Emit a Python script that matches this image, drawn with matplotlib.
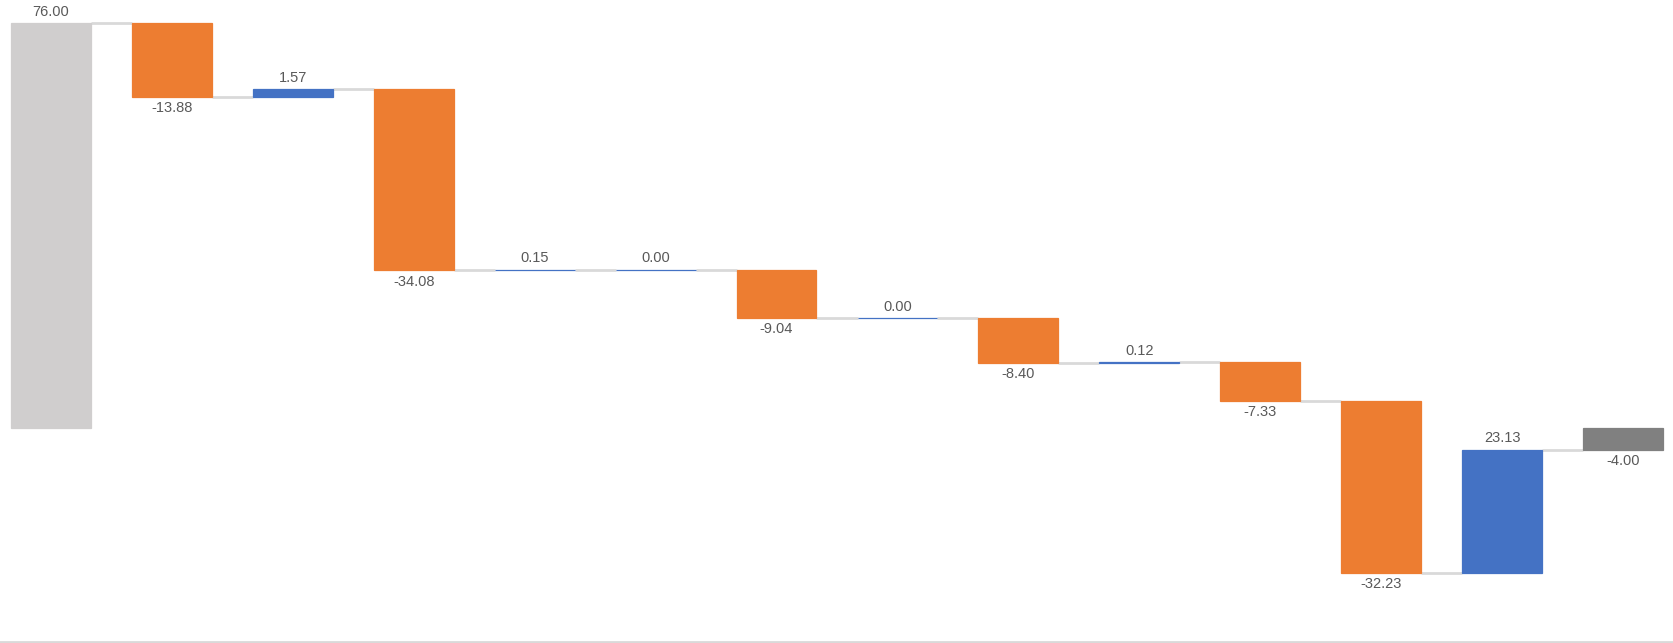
import numpy as np
import matplotlib

matplotlib.use("Agg")
import matplotlib.pyplot as plt

# waterfall steps: first is the starting total, last is the ending total
start_value = 76.00
changes = [-13.88, 1.57, -34.08, 0.15, 0.00, -9.04, 0.00, -8.40, 0.12, -7.33, -32.23, 23.13]
end_value = -4.00

ORANGE = "#ED7D31"
BLUE = "#4472C4"
START_GRAY = "#D0CECE"
END_GRAY = "#808080"
CONNECTOR = "#D9D9D9"
TEXT = "#595959"

plt.rcParams["font.family"] = ["Liberation Sans", "DejaVu Sans"]

fig = plt.figure(figsize=(16.73, 6.43), dpi=100)
ax = fig.add_axes([-9.5 / 1673, 1.3 / 643, 1693 / 1673, 640 / 643])

n = len(changes) + 2
x = np.arange(n)
width = 0.66

# bottoms / heights for every bar
cum = np.concatenate([[start_value], start_value + np.cumsum(changes)])
bottoms = [0.0]
heights = [start_value]
colors = [START_GRAY]
for i, c in enumerate(changes):
    prev = cum[i]
    bottoms.append(prev if c >= 0 else prev + c)
    heights.append(abs(c))
    colors.append(BLUE if c >= 0 else ORANGE)
bottoms.append(0.0)
heights.append(end_value)
colors.append(END_GRAY)

ax.bar(x, heights, width=width, bottom=bottoms, color=colors,
       edgecolor=colors, linewidth=0.9, zorder=3)

# connector lines between bars at running level
levels = list(cum) + [end_value]
for i in range(n - 1):
    ax.plot([x[i] + width / 2, x[i + 1] - width / 2], [levels[i], levels[i]],
            color=CONNECTOR, lw=2, solid_capstyle="butt", zorder=2)

# value labels
values = [start_value] + changes + [end_value]
for i, v in enumerate(values):
    b, h = bottoms[i], heights[i]
    top, bot = max(b, b + h), min(b, b + h)
    if v >= 0:
        ax.annotate(f"{v:.2f}", (x[i], top), xytext=(0, 3), textcoords="offset points",
                    ha="center", va="bottom", fontsize=10.5, color=TEXT)
    else:
        ax.annotate(f"{v:.2f}", (x[i], bot), xytext=(0, -3), textcoords="offset points",
                    ha="center", va="top", fontsize=10.5, color=TEXT)

ax.set_xlim(-0.5, n - 0.5)
ax.set_ylim(-40, 80)
for side in ["top", "left", "right"]:
    ax.spines[side].set_visible(False)
ax.spines["bottom"].set_color(CONNECTOR)
ax.spines["bottom"].set_linewidth(2)
ax.set_xticks([])
ax.set_yticks([])

fig.savefig("out.png", dpi=100)
